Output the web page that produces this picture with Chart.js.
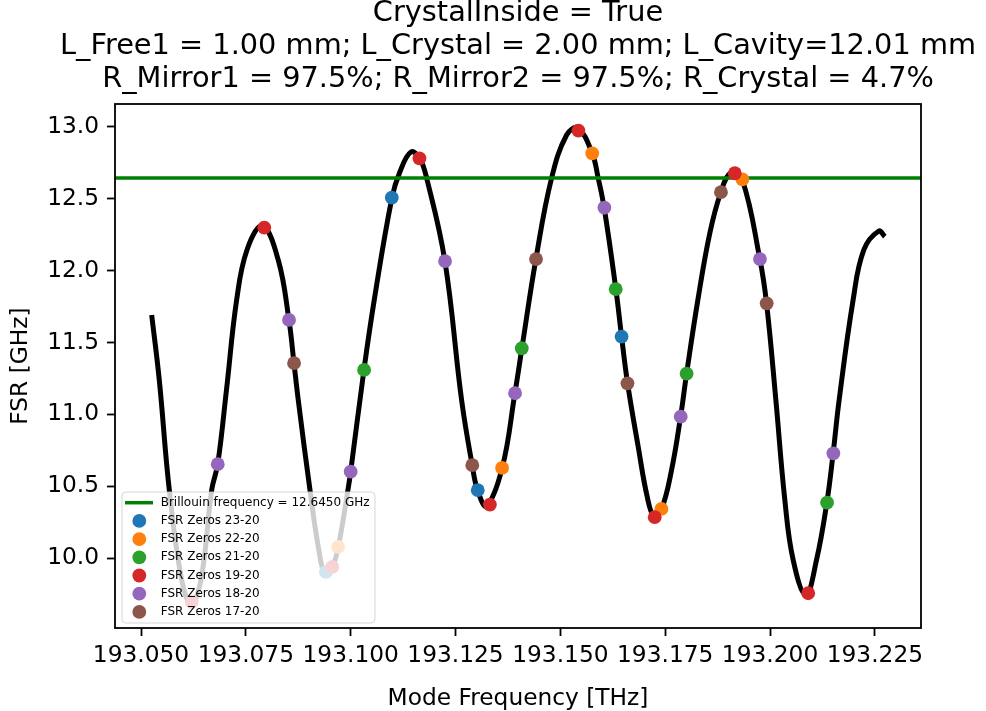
<!DOCTYPE html>
<html>
<head>
<meta charset="utf-8">
<script src="https://cdn.jsdelivr.net/npm/chart.js@4.4.1/dist/chart.umd.min.js"></script>
<style>
  html, body { margin: 0; padding: 0; background: #fff; }
  canvas { display: block; }
</style>
</head>
<body>
<canvas id="fsrChart" width="986" height="711"></canvas>
<script>
const titleLines = [
  'CrystalInside = True',
  'L_Free1 = 1.00 mm; L_Crystal = 2.00 mm; L_Cavity=12.01 mm',
  'R_Mirror1 = 97.5%; R_Mirror2 = 97.5%; R_Crystal = 4.7%'
];
const brillouinGHz = 12.645;
const freqRange = [193.0438, 193.236];
const fsrRange = [9.513, 13.16];
const freqTicks = [193.05, 193.075, 193.1, 193.125, 193.15, 193.175, 193.2, 193.225];
const fsrTicks = [10.0, 10.5, 11.0, 11.5, 12.0, 12.5, 13.0];

// FSR curve
const curveFreq = [
  193.05255, 193.05436, 193.05675, 193.05970, 193.06192, 193.06430, 193.06686, 193.06829,
  193.07038, 193.07281, 193.07527, 193.07897, 193.08273, 193.08528, 193.08648, 193.08750,
  193.09029, 193.09227, 193.09387, 193.09561, 193.09704, 193.09935, 193.10000, 193.10316,
  193.10562, 193.10984, 193.11175, 193.11437, 193.11644, 193.11811, 193.12247, 193.12645,
  193.12898, 193.13027, 193.13237, 193.13613, 193.13916, 193.14083, 193.14417, 193.14791,
  193.15149, 193.15418, 193.15759, 193.15902, 193.16045, 193.16324, 193.16460, 193.16603,
  193.16856, 193.17071, 193.17230, 193.17414, 193.17652, 193.17867, 193.18010, 193.18279,
  193.18565, 193.18827, 193.19066, 193.19335, 193.19757, 193.19917, 193.20139, 193.20353,
  193.20551, 193.20854, 193.21109, 193.21355, 193.21505, 193.21648, 193.21981, 193.22236,
  193.22594, 193.22737
];
const curveFsr = [
  11.692, 11.239, 10.474, 9.848, 9.679, 9.848, 10.474, 10.653,
  11.170, 11.796, 12.144, 12.311, 12.074, 11.657, 11.356, 11.100,
  10.474, 10.079, 9.889, 9.938, 10.077, 10.474, 10.601, 11.309,
  11.796, 12.508, 12.689, 12.826, 12.782, 12.645, 12.067, 11.100,
  10.646, 10.472, 10.363, 10.627, 11.147, 11.460, 12.081, 12.645,
  12.944, 12.993, 12.817, 12.645, 12.438, 11.871, 11.541, 11.216,
  10.775, 10.427, 10.293, 10.342, 10.613, 10.984, 11.283, 11.796,
  12.262, 12.546, 12.683, 12.636, 12.081, 11.773, 11.100, 10.404,
  9.987, 9.743, 9.987, 10.386, 10.729, 11.100, 11.796, 12.144,
  12.276, 12.237
];

// zero points [freq THz, FSR GHz]
const zeros23 = [[193.0941, 9.903], [193.1098, 12.508], [193.1303, 10.472], [193.1646, 11.541]];
const zeros22 = [[193.0970, 10.077], [193.1361, 10.627], [193.1576, 12.817], [193.1741, 10.342], [193.1934, 12.636]];
const zeros21 = [[193.1032, 11.309], [193.1408, 11.460], [193.1632, 11.871], [193.1801, 11.283], [193.2136, 10.386]];
const zeros19 = [[193.0621, 9.694], [193.0794, 12.299], [193.0956, 9.938], [193.1164, 12.782], [193.1332, 10.372],
  [193.1543, 12.974], [193.1725, 10.284], [193.1916, 12.678], [193.2091, 9.755]];
const zeros18 = [[193.0683, 10.653], [193.0853, 11.657], [193.1000, 10.601], [193.1225, 12.067], [193.1392, 11.147],
  [193.1605, 12.438], [193.1787, 10.984], [193.1976, 12.081], [193.2151, 10.729]];
const zeros17 = [[193.0865, 11.356], [193.1290, 10.646], [193.1442, 12.081], [193.1660, 11.216], [193.1883, 12.546],
  [193.1992, 11.773]];

Chart.defaults.font.family = "'DejaVu Sans', sans-serif";
Chart.defaults.color = '#000';

const toPoints = (pairs) => pairs.map((p) => ({ x: p[0], y: p[1] }));

function zeroSet(label, pairs, color, order) {
  return {
    label: label,
    data: toPoints(pairs),
    showLine: false,
    pointRadius: 6.9,
    pointHoverRadius: 6.9,
    pointBorderWidth: 0,
    pointBackgroundColor: color,
    backgroundColor: color,
    borderColor: color,
    order: order
  };
}

// title centred over the plot area
const figTitle = {
  id: 'figTitle',
  afterDraw(chart) {
    const { ctx, chartArea: a } = chart;
    ctx.save();
    ctx.font = "28.8px 'DejaVu Sans'";
    ctx.fillStyle = '#000';
    ctx.textAlign = 'center';
    ctx.textBaseline = 'middle';
    titleLines.forEach((line, i) => {
      ctx.fillText(line, (a.left + a.right) / 2, 14 + i * 33);
    });
    ctx.restore();
  }
};

const framePlugin = {
  id: 'frame',
  afterDatasetsDraw(chart) {
    const { ctx, chartArea: a } = chart;
    ctx.save();
    ctx.strokeStyle = '#000';
    ctx.lineWidth = 1.8;
    ctx.strokeRect(a.left, a.top, a.right - a.left, a.bottom - a.top);
    ctx.restore();
  }
};

const boxLegend = {
  id: 'boxLegend',
  afterDraw(chart) {
    const { ctx, chartArea: a } = chart;
    const items = chart.data.datasets.filter((d) => d.label);
    const w = 253, h = 131, rowH = 18.2;
    const x = a.left + 7;
    const y = a.bottom - 5 - h;
    ctx.save();
    ctx.beginPath();
    ctx.roundRect(x, y, w, h, 4);
    ctx.fillStyle = 'rgba(255,255,255,0.8)';
    ctx.fill();
    ctx.strokeStyle = 'rgba(204,204,204,0.8)';
    ctx.lineWidth = 1;
    ctx.stroke();
    ctx.font = "12px 'DejaVu Sans'";
    ctx.textBaseline = 'middle';
    items.forEach((d, i) => {
      const cy = y + 10.7 + i * rowH;
      if (d.showLine === false) {
        ctx.beginPath();
        ctx.arc(x + 17.3, cy, 6.9, 0, Math.PI * 2);
        ctx.fillStyle = d.backgroundColor;
        ctx.fill();
      } else {
        ctx.beginPath();
        ctx.moveTo(x + 3, cy);
        ctx.lineTo(x + 31, cy);
        ctx.strokeStyle = d.borderColor;
        ctx.lineWidth = 3.5;
        ctx.stroke();
      }
      ctx.fillStyle = '#000';
      ctx.fillText(d.label, x + 38.7, cy);
    });
    ctx.restore();
  }
};

const tickFont = { size: 23.3 };

new Chart(document.getElementById('fsrChart'), {
  type: 'line',
  data: {
    datasets: [
      {
        label: 'Brillouin frequency = ' + brillouinGHz.toFixed(4) + ' GHz',
        data: [{ x: freqRange[0], y: brillouinGHz }, { x: freqRange[1], y: brillouinGHz }],
        borderColor: '#008000',
        borderWidth: 3.5,
        pointRadius: 0,
        order: 7
      },
      zeroSet('FSR Zeros 23-20', zeros23, '#1f77b4', 6),
      zeroSet('FSR Zeros 22-20', zeros22, '#ff7f0e', 5),
      zeroSet('FSR Zeros 21-20', zeros21, '#2ca02c', 4),
      zeroSet('FSR Zeros 19-20', zeros19, '#d62728', 3),
      zeroSet('FSR Zeros 18-20', zeros18, '#9467bd', 2),
      zeroSet('FSR Zeros 17-20', zeros17, '#8c564b', 1),
      {
        data: curveFreq.map((f, i) => ({ x: f, y: curveFsr[i] })),
        borderColor: '#000',
        borderWidth: 5,
        pointRadius: 0,
        tension: 0.4,
        order: 8
      }
    ]
  },
  options: {
    responsive: false,
    animation: false,
    devicePixelRatio: 1,
    events: [],
    layout: { padding: { left: 0, right: 65, top: 104, bottom: 0 } },
    plugins: {
      legend: { display: false },
      tooltip: { enabled: false },
      title: { display: false }
    },
    scales: {
      x: {
        type: 'linear',
        min: freqRange[0],
        max: freqRange[1],
        afterBuildTicks: (scale) => { scale.ticks = freqTicks.map((v) => ({ value: v })); },
        afterFit: (scale) => { scale.height = 83; },
        border: { display: false },
        grid: { drawOnChartArea: false, drawTicks: true, tickLength: 8, tickColor: '#000', tickWidth: 1.8 },
        ticks: { font: tickFont, color: '#000', padding: 6, autoSkip: false, maxRotation: 0, minRotation: 0,
          callback: (v) => Number(v).toFixed(3) },
        title: { display: true, text: 'Mode Frequency [THz]', color: '#000',
          font: { size: 23.3, lineHeight: '24px' }, padding: { top: 0, bottom: 0 } }
      },
      y: {
        type: 'linear',
        min: fsrRange[0],
        max: fsrRange[1],
        afterBuildTicks: (scale) => { scale.ticks = fsrTicks.map((v) => ({ value: v })); },
        afterFit: (scale) => { scale.width = 115; },
        border: { display: false },
        grid: { drawOnChartArea: false, drawTicks: true, tickLength: 8, tickColor: '#000', tickWidth: 1.8 },
        ticks: { font: tickFont, color: '#000', padding: 8, autoSkip: false,
          callback: (v) => Number(v).toFixed(1) },
        title: { display: true, text: 'FSR [GHz]', color: '#000',
          font: { size: 23.3, lineHeight: '24px' }, padding: { top: 9, bottom: 0 } }
      }
    }
  },
  plugins: [framePlugin, boxLegend, figTitle]
});
</script>
</body>
</html>
